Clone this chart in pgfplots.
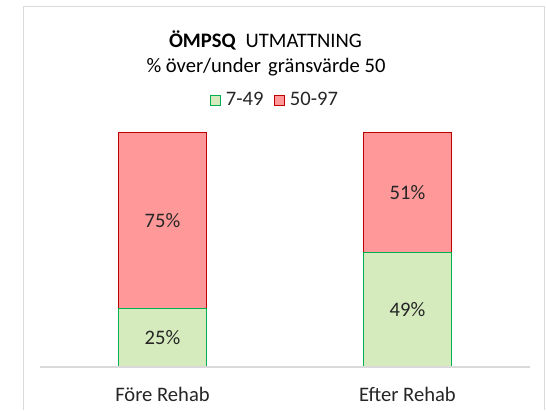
\documentclass[border=0pt]{standalone}
\usepackage{pgfplots}
\pgfplotsset{compat=1.18}
\usepackage{fontspec}
\setmainfont{Carlito}
\definecolor{barred}{HTML}{FF9999}
\definecolor{edgered}{HTML}{C00000}
\definecolor{bargreen}{HTML}{D5EBBE}
\definecolor{edgegreen}{HTML}{00B050}
\definecolor{framegray}{HTML}{D9D9D9}
\definecolor{txt}{HTML}{262626}
\begin{document}
\begin{tikzpicture}
\useasboundingbox (0pt,0pt) rectangle (546pt,410pt);
\fill[white] (0pt,0pt) rectangle (546pt,410pt);
\draw[framegray, line width=1pt] (23pt,0pt) -- (23pt,403pt) -- (544pt,403pt) -- (544pt,0pt);
\node[font=\fontsize{20.6}{24}\selectfont, text=black] at (265.5pt,370pt) {\textbf{ÖMPSQ}\ \ UTMATTNING};
\node[font=\fontsize{20.6}{24}\selectfont, text=black] at (266pt,343pt) {\% över/under\hspace{2.5pt} gränsvärde 50};
\begin{axis}[
  at={(40pt,43pt)}, anchor=south west,
  scale only axis, width=490pt, height=234pt,
  xmin=-0.5, xmax=1.5, ymin=0, ymax=100,
  ybar stacked, bar width=88pt, axis on top,
  axis x line*=bottom, axis y line=none,
  x axis line style={draw=framegray, line width=1.3pt, -},
  xtick={0,1}, xticklabels={Före Rehab, Efter Rehab},
  xtick style={draw=none},
  xticklabel style={font=\fontsize{20.6}{24}\selectfont, text=txt, anchor=base, yshift=-34pt},
  legend image code/.code={\path[draw=none, fill=none] (0pt,-5pt) rectangle (13pt,5pt);
    \draw[#1, line width=0.8pt] (0pt,-5pt) rectangle (10pt,5pt);},
  legend style={at={(0.48,1.141)}, anchor=center, draw=none, fill=none, legend columns=2,
    font=\fontsize{20.6}{24}\selectfont, text=txt, nodes={inner sep=2pt},
    /tikz/every even column/.append style={column sep=9pt}},
]
\addplot[fill=bargreen, draw=edgegreen, line width=1pt] coordinates {(0,25) (1,49)};
\addplot[fill=barred, draw=edgered, line width=1pt] coordinates {(0,75) (1,51)};
\legend{7-49, 50-97}
\end{axis}
\begin{axis}[
  at={(40pt,43pt)}, anchor=south west,
  scale only axis, width=490pt, height=234pt,
  xmin=-0.5, xmax=1.5, ymin=0, ymax=100,
  hide axis,
]
\addplot[draw=none, mark=none, nodes near coords, point meta=explicit symbolic,
  nodes near coords style={anchor=center, font=\fontsize{20.6}{24}\selectfont, text=txt}]
  coordinates {(0,12.5) [25\%] (1,24.5) [49\%] (0,62.5) [75\%] (1,74.5) [51\%]};
\end{axis}
\end{tikzpicture}
\end{document}
